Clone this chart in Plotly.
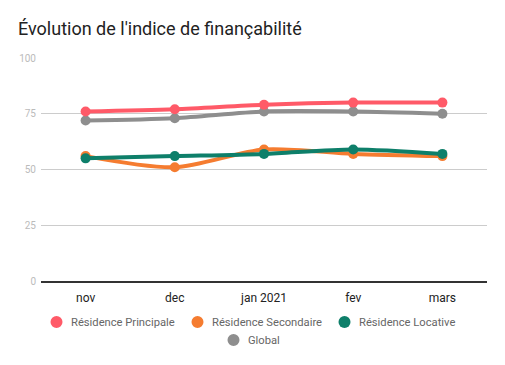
import plotly.graph_objects as go

months = ["nov", "dec", "jan 2021", "fev", "mars"]
principale = [76, 77, 79, 80, 80]
secondaire = [56, 51, 59, 57, 56]
locative = [55, 56, 57, 59, 57]
global_idx = [72, 73, 76, 76, 75]
y_ticks = [0, 25, 50, 75, 100]

# page has 8px body margin -> figure drawn at (8, 8)
OFF = 8
W, H = 505 - OFF, 365 - OFF
L, R, T, B = 41 - OFF, 18, 58 - OFF, 365 - 281
PW, PH = W - L - R, H - T - B

def px_x(x):  # page pixel -> paper x
    return (x - OFF - L) / PW

def px_y(y):  # page pixel -> paper y
    return 1 - (y - OFF - T) / PH

series = [
    ("Résidence Principale", principale, "#ff5a68", 56.5, 322),
    ("Résidence Secondaire", secondaire, "#f57c30", 197.5, 322),
    ("Résidence Locative", locative, "#0e7f6a", 344.5, 322),
    ("Global", global_idx, "#8e8e8e", 233.5, 340),
]

fig = go.Figure()
draw_order = [series[3], series[0], series[1], series[2]]
for name, vals, color, *_ in draw_order:
    fig.add_trace(go.Scatter(
        x=months, y=vals, mode="lines+markers", name=name,
        line=dict(color=color, width=4, shape="spline", smoothing=0.8),
        marker=dict(color=color, size=10),
        showlegend=False, hoverinfo="skip",
    ))

shapes, annotations = [], []
rad = 6
for name, vals, color, cx, cy in series:
    shapes.append(dict(
        type="circle", xref="paper", yref="paper",
        x0=px_x(cx - rad), x1=px_x(cx + rad),
        y0=px_y(cy + rad), y1=px_y(cy - rad),
        fillcolor=color, line=dict(width=0),
    ))
    annotations.append(dict(
        text=name, xref="paper", yref="paper",
        x=px_x(cx + 12.5), y=px_y(cy), xanchor="left", yanchor="middle",
        showarrow=False,
        font=dict(family="Roboto", size=11.2, color="#666666"),
    ))

fig.update_layout(
    width=W, height=H,
    margin=dict(l=L, r=R, t=T, b=B, autoexpand=False),
    paper_bgcolor="white", plot_bgcolor="white",
    title=dict(
        text="Évolution de l'indice de finançabilité",
        x=(18 - OFF) / W, xref="container", xanchor="left",
        y=1 - (29 - OFF) / H, yanchor="middle",
        font=dict(family="Roboto", size=18, color="#222222"),
    ),
    xaxis=dict(
        range=[-0.5, 4.5], showgrid=False, showline=True, linecolor="#333333",
        linewidth=1.5, tickfont=dict(family="Roboto", size=12, color="#222222"),
        ticks="", automargin=False, ticklabelstandoff=5,
    ),
    yaxis=dict(
        range=[0, 100], tickvals=y_ticks, showgrid=True, gridcolor="#cccccc",
        gridwidth=1, zeroline=False, showline=False,
        tickfont=dict(family="Roboto", size=10, color="#bbbbbb"),
        ticks="", ticklabelstandoff=4, automargin=False,
    ),
    showlegend=False,
    shapes=shapes,
    annotations=annotations,
)

fig.write_html("out.html")
